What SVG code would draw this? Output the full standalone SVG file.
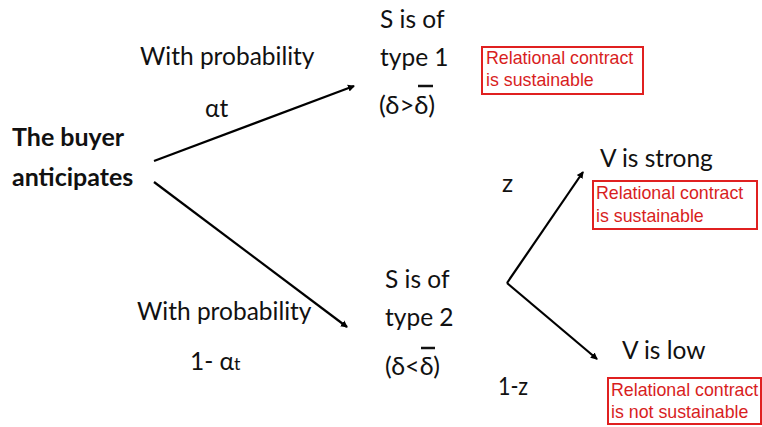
<svg xmlns="http://www.w3.org/2000/svg" width="762" height="427" viewBox="0 0 762 427">
<style>
.t{font-family:Lato,"Open Sans","Liberation Sans",sans-serif;font-size:24.5px;fill:#111}
.b{font-weight:bold;font-size:25px}
.r{font-family:"Liberation Sans",Arial,sans-serif;font-size:17.8px;fill:#d81e1e}
.box{fill:#fff;stroke:#e02020;stroke-width:2}
.ln{stroke:#000;stroke-width:2.2;fill:none}
.ob{stroke:#111;stroke-width:2.5}
</style>
<defs>
<marker id="ah" markerWidth="8" markerHeight="8" refX="6" refY="4" orient="auto" markerUnits="userSpaceOnUse">
<path d="M0,0.5 L7,4 L0,7.5 Z" fill="#000"/>
</marker>
</defs>
<rect width="762" height="427" fill="#fff"/>
<g id="connectors">
<line class="ln" x1="154" y1="161" x2="354" y2="86" marker-end="url(#ah)"/>
<line class="ln" x1="154" y1="182" x2="347" y2="327" marker-end="url(#ah)"/>
<line class="ln" x1="507" y1="283" x2="583" y2="172" marker-end="url(#ah)"/>
<line class="ln" x1="507" y1="283" x2="597" y2="359" marker-end="url(#ah)"/>
</g>
<g id="buyer"><text class="t b" x="12" y="146">The buyer</text><text class="t b" x="12" y="186">anticipates</text></g>
<g id="label-upper"><text class="t" x="140" y="65">With probability</text><text class="t" x="205" y="117">αt</text></g>
<g id="label-lower"><text class="t" x="137" y="320">With probability</text><text class="t" x="190" y="370" font-size="23">1- α<tspan font-size="18">t</tspan></text></g>
<g id="type1"><text class="t" x="380" y="28">S is of</text><text class="t" x="380" y="66">type 1</text><text class="t" x="379" y="114" textLength="56" lengthAdjust="spacingAndGlyphs">(δ&gt;δ)</text><line class="ob" x1="418" y1="86" x2="433" y2="86"/></g>
<g id="type2"><text class="t" x="385" y="288">S is of</text><text class="t" x="385" y="326">type 2</text><text class="t" x="385" y="375" textLength="55" lengthAdjust="spacingAndGlyphs">(δ&lt;δ)</text><line class="ob" x1="421" y1="348" x2="435" y2="348"/></g>
<g id="z"><text class="t" x="502" y="192" font-size="23">z</text></g>
<g id="z1"><text class="t" x="498" y="395" font-size="23" textLength="30" lengthAdjust="spacingAndGlyphs">1-z</text></g>
<g id="strong"><text class="t" x="600" y="167">V is strong</text></g>
<g id="low"><text class="t" x="622" y="359">V is low</text></g>
<g id="box1"><rect class="box" x="482" y="47" width="161" height="47"/><text class="r" x="486" y="64">Relational contract</text><text class="r" x="486" y="86">is sustainable</text></g>
<g id="box2"><rect class="box" x="593" y="181" width="164" height="48"/><text class="r" x="596" y="199">Relational contract</text><text class="r" x="596" y="222">is sustainable</text></g>
<g id="box3"><rect class="box" x="608" y="378" width="153" height="46"/><text class="r" x="611" y="396">Relational contract</text><text class="r" x="611" y="418">is not sustainable</text></g>
</svg>
